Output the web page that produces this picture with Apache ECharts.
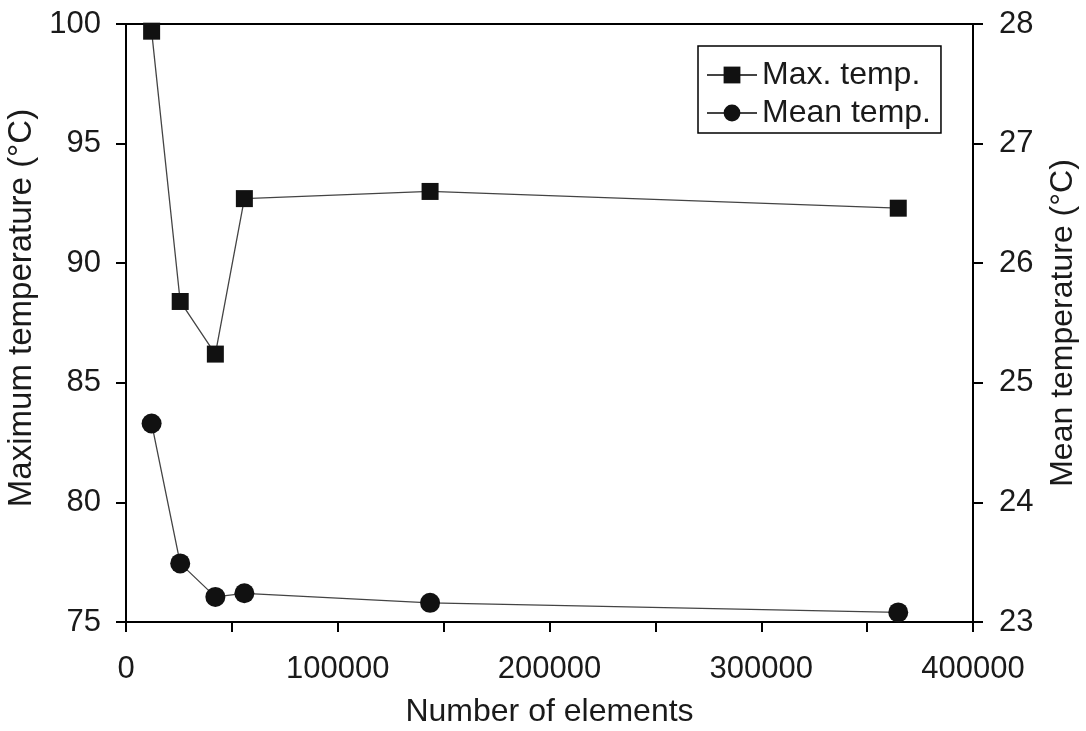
<!DOCTYPE html>
<html>
<head>
<meta charset="utf-8">
<script src="https://cdn.jsdelivr.net/npm/echarts@6/dist/echarts.min.js"></script>
<style>
html,body{margin:0;padding:0;background:#fff;}
#chart{width:1086px;height:731px;}
</style>
</head>
<body>
<div id="chart"></div>
<script>
var elements = [12100, 25600, 42200, 55900, 143600, 364700];
var maxTemp = [99.7, 88.4, 86.2, 92.7, 93.0, 92.3];
var meanTemp = [24.66, 23.49, 23.21, 23.24, 23.16, 23.08];
var xTicks = [0, 100000, 200000, 300000, 400000];

var FONT = '"Liberation Sans", Arial, sans-serif';
var TXT = '#1a1a1a';

function pairs(xs, ys) {
  var out = [];
  for (var i = 0; i < xs.length; i++) out.push([xs[i], ys[i]]);
  return out;
}

var chart = echarts.init(document.getElementById('chart'), null, {renderer: 'canvas'});
chart.setOption({
  animation: false,
  backgroundColor: '#fff',
  textStyle: {fontFamily: FONT, color: TXT},
  grid: {left: 126, right: 113, top: 24, bottom: 109, containLabel: false, outerBoundsMode: 'none',
         show: true, borderColor: '#000', borderWidth: 2, backgroundColor: 'transparent'},
  legend: {
    orient: 'vertical',
    left: 698, top: 46,
    itemWidth: 50, itemHeight: 21,
    itemGap: 6,
    padding: [13, 10, 4, 8],
    borderColor: '#000', borderWidth: 1.5,
    textStyle: {fontSize: 32, fontFamily: FONT, color: TXT},
    data: ['Max. temp.', 'Mean temp.']
  },
  xAxis: {
    type: 'value', min: 0, max: 400000, interval: 50000,
    name: 'Number of elements', nameLocation: 'middle', nameGap: 74,
    nameTextStyle: {fontSize: 32, fontFamily: FONT, color: TXT},
    axisLine: {show: true, lineStyle: {color: '#000', width: 2}},
    axisTick: {show: true, inside: false, length: 10, lineStyle: {color: '#000', width: 2}},
    axisLabel: {
      fontSize: 31, fontFamily: FONT, color: TXT, margin: 32,
      formatter: function (v) { return xTicks.indexOf(v) >= 0 ? String(v) : ''; }
    },
    splitLine: {show: false}
  },
  yAxis: [{
    type: 'value', min: 75, max: 100, interval: 5, position: 'left',
    name: 'Maximum temperature (\u00B0C)', nameLocation: 'middle', nameGap: 77, nameRotate: 90,
    nameTextStyle: {fontSize: 33, fontFamily: FONT, color: TXT, padding: [0, 0, 0, 30]},
    axisLine: {show: true, lineStyle: {color: '#000', width: 2}},
    axisTick: {show: true, inside: false, length: 10, lineStyle: {color: '#000', width: 2}},
    axisLabel: {fontSize: 31, fontFamily: FONT, color: TXT, margin: 25},
    splitLine: {show: false}
  }, {
    type: 'value', min: 23, max: 28, interval: 1, position: 'right',
    name: 'Mean temperature (\u00B0C)', nameLocation: 'middle', nameGap: 74, nameRotate: 90,
    nameTextStyle: {fontSize: 32, fontFamily: FONT, color: TXT},
    axisLine: {show: true, lineStyle: {color: '#000', width: 2}},
    axisTick: {show: true, inside: false, length: 10, lineStyle: {color: '#000', width: 2}},
    axisLabel: {fontSize: 31, fontFamily: FONT, color: TXT, margin: 26},
    splitLine: {show: false}
  }],
  series: [{
    name: 'Max. temp.', type: 'line', yAxisIndex: 0,
    data: pairs(elements, maxTemp),
    symbol: 'rect', symbolSize: 17,
    itemStyle: {color: '#111'},
    lineStyle: {color: '#444', width: 1.3}
  }, {
    name: 'Mean temp.', type: 'line', yAxisIndex: 1,
    data: pairs(elements, meanTemp),
    symbol: 'circle', symbolSize: 20,
    itemStyle: {color: '#111'},
    lineStyle: {color: '#444', width: 1.3}
  }]
});
</script>
</body>
</html>
